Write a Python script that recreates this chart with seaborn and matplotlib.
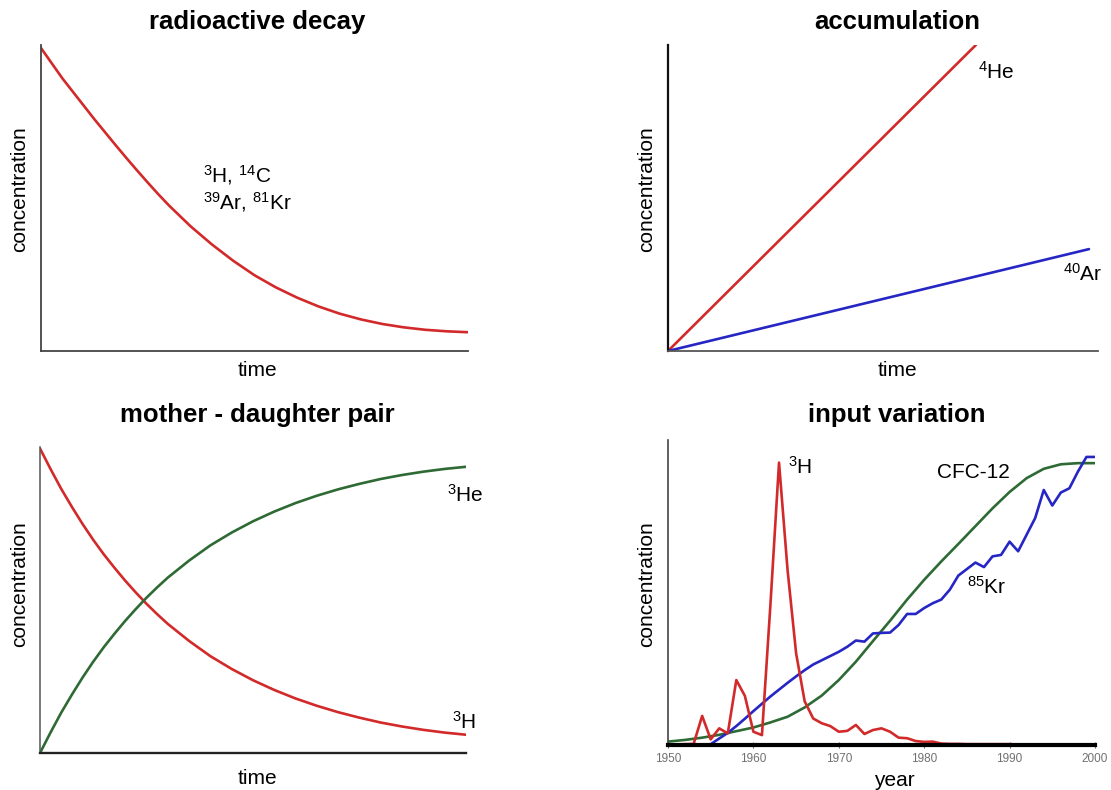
import matplotlib
matplotlib.use("Agg")
import matplotlib.pyplot as plt
import numpy as np
import pandas as pd
import seaborn as sns

# ---- data -------------------------------------------------------------
# relative time axis used by the decay-type schematic panels
t_rel = [0.000, 0.025, 0.050, 0.075, 0.100, 0.125, 0.150, 0.175, 0.200,
         0.225, 0.250, 0.275, 0.300, 0.350, 0.400, 0.450, 0.500, 0.550,
         0.600, 0.650, 0.700, 0.750, 0.800, 0.850, 0.900, 0.950, 1.000]

# radioactive decay
decay = [1.000, 0.950, 0.900, 0.855, 0.810, 0.765, 0.722, 0.679, 0.637,
         0.596, 0.556, 0.517, 0.480, 0.412, 0.352, 0.298, 0.250, 0.210,
         0.176, 0.147, 0.123, 0.104, 0.089, 0.078, 0.070, 0.065, 0.062]

# accumulation (straight lines from the origin)
acc_time_he = [0.0, 0.716]
acc_he4 = [0.0, 1.0]
acc_time_ar = [0.0, 0.979]
acc_ar40 = [0.0, 0.333]

# mother - daughter pair
mother_h3 = [1.000, 0.932, 0.867, 0.808, 0.752, 0.700, 0.652, 0.608, 0.566,
             0.527, 0.490, 0.456, 0.424, 0.368, 0.318, 0.276, 0.239, 0.207,
             0.179, 0.155, 0.134, 0.116, 0.100, 0.087, 0.076, 0.067, 0.060]
daughter_he3 = [0.000, 0.068, 0.133, 0.192, 0.248, 0.300, 0.348, 0.392,
                0.434, 0.473, 0.510, 0.544, 0.576, 0.632, 0.682, 0.724,
                0.761, 0.793, 0.821, 0.845, 0.866, 0.884, 0.900, 0.913,
                0.924, 0.933, 0.940]

# input variation (relative units)
years_h3 = list(range(1950, 1996))
tritium = [0.2, 0.2, 0.3, 0.4, 10.3, 2.0, 5.9, 4.1, 23.0, 17.4,
           4.7, 3.5, 50.0, 100.0, 62.0, 32.5, 15.5, 9.4, 7.7, 6.7,
           4.7, 5.0, 7.1, 3.9, 5.3, 5.9, 4.7, 2.6, 2.4, 1.4,
           1.1, 1.2, 0.5, 0.4, 0.4, 0.3, 0.3, 0.3, 0.3, 0.3,
           0.3, 0.2, 0.2, 0.2, 0.2, 0.2]

years_kr = list(range(1954, 2001))
krypton85 = [0.0, 0.3, 2.3, 4.3, 6.7, 9.3, 12.0, 14.6, 17.2, 19.6,
             22.0, 24.3, 26.5, 28.5, 30.0, 31.5, 33.0, 34.8, 37.0, 36.6,
             39.5, 39.7, 39.8, 42.5, 46.4, 46.4, 48.5, 50.2, 51.5, 55.0,
             60.0, 62.3, 64.6, 63.0, 66.8, 67.3, 72.0, 68.6, 74.5, 80.4,
             90.3, 84.8, 89.4, 90.9, 96.8, 102.0, 102.0]

years_cfc = list(range(1950, 2001, 2))
cfc12 = [1.2, 1.8, 2.6, 3.6, 4.9, 6.2, 8.0, 10.0, 13.3, 17.5,
         23.0, 29.5, 36.8, 44.0, 51.5, 58.5, 65.0, 71.2, 77.5, 83.8,
         89.6, 94.5, 97.8, 99.4, 99.8, 99.8]

year_ticks = [1950, 1960, 1970, 1980, 1990, 2000]

# ---- style ------------------------------------------------------------
sns.set_style("white")
plt.rcParams["font.family"] = ["Liberation Sans", "DejaVu Sans"]
plt.rcParams["mathtext.fontset"] = "custom"
plt.rcParams["mathtext.rm"] = "Liberation Sans"
plt.rcParams["mathtext.it"] = "Liberation Sans:italic"
plt.rcParams["mathtext.bf"] = "Liberation Sans:bold"
plt.rcParams["text.color"] = "black"

RED = "#d22a2a"
GREEN = "#2e6a34"
BLUE = "#2626c4"
LW = 1.9
TITLE_FS = 18.5
LABEL_FS = 15

W, H = 1111, 790
fig = plt.figure(figsize=(W / 100, H / 100), dpi=100)


def axes_px(left, top, right, bottom):
    return fig.add_axes([left / W, 1 - bottom / H, (right - left) / W,
                         (bottom - top) / H])


def fig_text(x, y, s, **kw):
    fig.text(x / W, 1 - y / H, s, **kw)


def schematic(ax, left_color="#444444", left_w=1.3,
              bottom_color="#444444", bottom_w=1.3):
    sns.despine(ax=ax)
    ax.spines["left"].set_color(left_color)
    ax.spines["left"].set_linewidth(left_w)
    ax.spines["bottom"].set_color(bottom_color)
    ax.spines["bottom"].set_linewidth(bottom_w)
    ax.set_xticks([])
    ax.set_yticks([])
    ax.set_xlabel("")
    ax.set_ylabel("")


# ---- radioactive decay ------------------------------------------------
ax1 = axes_px(41, 45, 468, 351)
sns.lineplot(x=t_rel, y=decay, ax=ax1, color=RED, lw=LW, legend=False)
ax1.set_xlim(0, 1)
ax1.set_ylim(0, 1.01)
schematic(ax1)
ax1.text(0.379, 0.575, r"$^{3}$H, $^{14}$C", transform=ax1.transAxes,
         fontsize=LABEL_FS, ha="left", va="center")
ax1.text(0.379, 0.487, r"$^{39}$Ar, $^{81}$Kr", transform=ax1.transAxes,
         fontsize=LABEL_FS, ha="left", va="center")

# ---- accumulation -----------------------------------------------------
ax2 = axes_px(668, 45, 1098, 351)
sns.lineplot(x=acc_time_he, y=acc_he4, ax=ax2, color=RED, lw=LW, legend=False)
sns.lineplot(x=acc_time_ar, y=acc_ar40, ax=ax2, color=BLUE, lw=LW, legend=False)
ax2.set_xlim(0, 1)
ax2.set_ylim(0, 1)
schematic(ax2, left_color="#111111", left_w=1.6, bottom_color="#555555")
ax2.text(0.721, 0.912, r"$^{4}$He", transform=ax2.transAxes,
         fontsize=LABEL_FS, ha="left", va="center")
ax2.text(0.919, 0.252, r"$^{40}$Ar", transform=ax2.transAxes,
         fontsize=LABEL_FS, ha="left", va="center", clip_on=False)

# ---- mother - daughter pair ------------------------------------------
ax3 = axes_px(40, 447, 466, 753)
sns.lineplot(x=t_rel, y=mother_h3, ax=ax3, color=RED, lw=LW, legend=False)
sns.lineplot(x=t_rel, y=daughter_he3, ax=ax3, color=GREEN, lw=LW, legend=False)
ax3.set_xlim(0, 1)
ax3.set_ylim(0, 1.005)
schematic(ax3, left_color="#555555", left_w=1.1,
          bottom_color="#222222", bottom_w=1.7)
ax3.text(0.955, 0.843, r"$^{3}$He", transform=ax3.transAxes,
         fontsize=LABEL_FS, ha="left", va="center", clip_on=False)
ax3.text(0.967, 0.101, r"$^{3}$H", transform=ax3.transAxes,
         fontsize=LABEL_FS, ha="left", va="center", clip_on=False)

# ---- input variation --------------------------------------------------
ax4 = axes_px(668, 440, 1095, 745)
sns.lineplot(x=years_cfc, y=cfc12, ax=ax4, color=GREEN, lw=LW, legend=False)
sns.lineplot(x=years_kr, y=krypton85, ax=ax4, color=BLUE, lw=LW, legend=False)
sns.lineplot(x=years_h3, y=tritium, ax=ax4, color=RED, lw=LW, legend=False)
ax4.set_xlim(1950, 2000)
ax4.set_ylim(0, 108)
sns.despine(ax=ax4)
ax4.spines["left"].set_color("#444444")
ax4.spines["left"].set_linewidth(1.2)
ax4.spines["bottom"].set_color("black")
ax4.spines["bottom"].set_linewidth(3.0)
ax4.spines["bottom"].set_zorder(5)
ax4.set_yticks([])
ax4.set_xticks(year_ticks)
ax4.set_xticklabels([str(y) for y in year_ticks])
ax4.tick_params(axis="x", bottom=True, direction="inout", length=5, width=0.8,
                color="#666666", labelsize=8.5, labelcolor="#707070", pad=3)
ax4.set_xlabel("")
ax4.set_ylabel("")
ax4.text(0.281, 0.911, r"$^{3}$H", transform=ax4.transAxes,
         fontsize=LABEL_FS, ha="left", va="center")
ax4.text(0.630, 0.892, "CFC-12", transform=ax4.transAxes,
         fontsize=LABEL_FS, ha="left", va="center")
ax4.text(0.700, 0.518, r"$^{85}$Kr", transform=ax4.transAxes,
         fontsize=LABEL_FS, ha="left", va="center")

# ---- titles and axis labels ------------------------------------------
fig_text(257, 22, "radioactive decay", fontsize=TITLE_FS, fontweight="bold",
         ha="center", va="center")
fig_text(897, 22, "accumulation", fontsize=TITLE_FS, fontweight="bold",
         ha="center", va="center")
fig_text(257, 415, "mother - daughter pair", fontsize=TITLE_FS,
         fontweight="bold", ha="center", va="center")
fig_text(897, 415, "input variation", fontsize=TITLE_FS, fontweight="bold",
         ha="center", va="center")

fig_text(257, 370, "time", fontsize=LABEL_FS, ha="center", va="center")
fig_text(897, 370, "time", fontsize=LABEL_FS, ha="center", va="center")
fig_text(257, 779, "time", fontsize=LABEL_FS, ha="center", va="center")
fig_text(894, 781, "year", fontsize=LABEL_FS, ha="center", va="center")

for x, y in [(20, 189), (647, 189), (20, 584), (647, 584)]:
    fig_text(x, y, "concentration", fontsize=LABEL_FS, rotation=90,
             ha="center", va="center")

fig.savefig("out.png", dpi=100, facecolor="white")
